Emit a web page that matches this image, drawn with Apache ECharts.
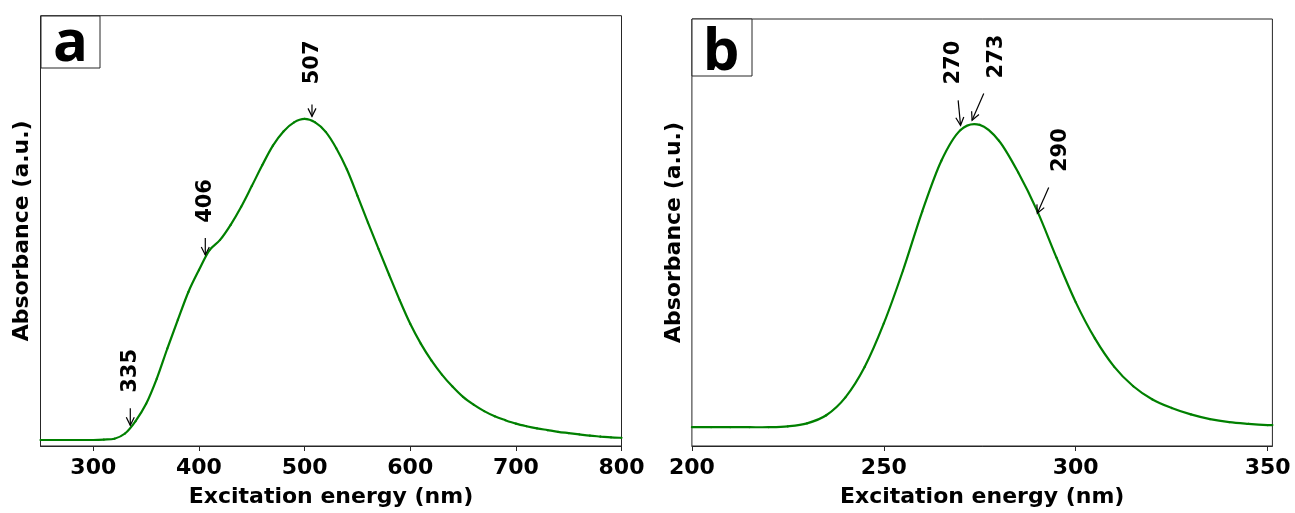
<!DOCTYPE html>
<html>
<head>
<meta charset="utf-8">
<script src="https://cdn.jsdelivr.net/npm/echarts@6/dist/echarts.min.js"></script>
<style>
html,body{margin:0;padding:0;background:#fff;}
#chart{width:1295px;height:513px;}
</style>
</head>
<body>
<div id="chart"></div>
<script>
// ---- Panel a data ----
const aWavelength = [250, 260, 270, 280, 290, 300, 310, 320, 330, 340, 350, 360, 370, 380, 390, 400, 410, 420, 430, 440, 450, 460, 470, 480, 490, 500, 510, 520, 530, 540, 550, 560, 570, 580, 590, 600, 610, 620, 630, 640, 650, 660, 670, 680, 690, 700, 710, 720, 730, 740, 750, 760, 770, 780, 790, 800];
const aAbsorbance = [0.014, 0.014, 0.014, 0.014, 0.014, 0.014, 0.015, 0.017, 0.029, 0.058, 0.098, 0.156, 0.226, 0.293, 0.358, 0.409, 0.455, 0.479, 0.514, 0.556, 0.604, 0.653, 0.698, 0.731, 0.752, 0.760, 0.752, 0.730, 0.692, 0.643, 0.582, 0.519, 0.458, 0.398, 0.339, 0.284, 0.238, 0.199, 0.166, 0.138, 0.114, 0.096, 0.081, 0.069, 0.060, 0.052, 0.046, 0.041, 0.037, 0.033, 0.030, 0.027, 0.024, 0.022, 0.020, 0.019];
const aTicks = [300, 400, 500, 600, 700, 800];
const aPeakLabels = ['335', '406', '507'];
const aPeakX = [335, 406, 507];
const aPeakY = [0.048, 0.444, 0.766];

// ---- Panel b data ----
const bWavelength = [200, 205, 210, 215, 220, 225, 230, 235, 240, 245, 250, 255, 260, 265, 270, 275, 280, 285, 290, 295, 300, 305, 310, 315, 320, 325, 330, 335, 340, 345, 350, 351.25];
const bAbsorbance = [0.044, 0.044, 0.044, 0.044, 0.044, 0.046, 0.053, 0.072, 0.114, 0.185, 0.287, 0.411, 0.549, 0.668, 0.740, 0.752, 0.715, 0.641, 0.550, 0.441, 0.337, 0.252, 0.186, 0.140, 0.109, 0.089, 0.074, 0.063, 0.056, 0.052, 0.049, 0.049];
const bTicks = [200, 250, 300, 350];
const bPeakLabels = ['270', '273', '290'];
const bPeakX = [270, 273, 290];
const bPeakY = [0.751, 0.763, 0.545];

// ---- styles (pixel offsets of arrow tails and label centres relative to the arrow tip) ----
const aAnnoStyle = [
  {tail: [0, -17], text: [0.6, -54.5]},
  {tail: [0, -17], text: [0, -54]},
  {tail: [0, -12], text: [1, -54]}
];
const bAnnoStyle = [
  {tail: [-2.4, -25], text: [-6.7, -62.7]},
  {tail: [11.7, -26.7], text: [24.7, -63.7]},
  {tail: [11.4, -25.7], text: [23.7, -63.2]}
];

const FONT = '"DejaVu Sans", Verdana, sans-serif';
const AXIS_COLOR = '#262626';
const LINE_COLOR = '#008000';

function zip(xs, ys) { return xs.map((x, i) => [x, ys[i]]); }

// Smooth curve: each data item draws the Catmull-Rom segment to the next item,
// with all positions taken from the axes through api.coord.
function curveRenderer(xs, ys) {
  const n = xs.length;
  return function (params, api) {
    const i = params.dataIndex;
    if (i >= n - 1) return null;
    const P = k => { const j = Math.max(0, Math.min(n - 1, k)); return api.coord([xs[j], ys[j]]); };
    const p0 = P(i - 1), p1 = P(i), p2 = P(i + 1), p3 = P(i + 2);
    return {
      type: 'bezierCurve',
      shape: {
        x1: p1[0], y1: p1[1], x2: p2[0], y2: p2[1],
        cpx1: p1[0] + (p2[0] - p0[0]) / 6, cpy1: p1[1] + (p2[1] - p0[1]) / 6,
        cpx2: p2[0] - (p3[0] - p1[0]) / 6, cpy2: p2[1] - (p3[1] - p1[1]) / 6
      },
      style: {stroke: LINE_COLOR, lineWidth: 2.2, fill: null, lineCap: 'round'}
    };
  };
}

function annoRenderer(labels, styles) {
  return function (params, api) {
    const i = params.dataIndex;
    const p = api.coord([api.value(0), api.value(1)]);
    const st = styles[i];
    const tail = [p[0] + st.tail[0], p[1] + st.tail[1]];
    const dx = p[0] - tail[0], dy = p[1] - tail[1];
    const L = Math.hypot(dx, dy) || 1;
    const ux = dx / L, uy = dy / L, nx = -uy, ny = ux;
    const hl = 8, hw = 4;
    const h1 = [p[0] - ux * hl + nx * hw, p[1] - uy * hl + ny * hw];
    const h2 = [p[0] - ux * hl - nx * hw, p[1] - uy * hl - ny * hw];
    return {
      type: 'group',
      children: [
        {type: 'line', shape: {x1: tail[0], y1: tail[1], x2: p[0], y2: p[1]}, style: {stroke: '#000', lineWidth: 1.2}},
        {type: 'polyline', shape: {points: [h1, p, h2]}, style: {stroke: '#000', lineWidth: 1.2, fill: null}},
        {type: 'text', x: p[0] + st.text[0], y: p[1] + st.text[1], rotation: Math.PI / 2,
          style: {text: labels[i], fill: '#000', font: 'bold 21px ' + FONT, align: 'center', verticalAlign: 'middle'}}
      ]
    };
  };
}

function xAxisCfg(gridIndex, min, max, ticks) {
  return {
    gridIndex: gridIndex, type: 'value', min: min, max: max,
    axisLine: {show: true, onZero: false, lineStyle: {color: AXIS_COLOR, width: 1}},
    axisTick: {show: true, length: 5, customValues: ticks, lineStyle: {color: AXIS_COLOR, width: 1}},
    axisLabel: {customValues: ticks, color: '#000', fontWeight: 'bold', fontSize: 22, fontFamily: FONT, margin: 11},
    splitLine: {show: false},
    name: 'Excitation energy (nm)', nameLocation: 'middle', nameGap: 40,
    nameTextStyle: {color: '#000', fontWeight: 'bold', fontSize: 22, fontFamily: FONT}
  };
}
function yAxisCfg(gridIndex) {
  return {
    gridIndex: gridIndex, type: 'value', min: 0, max: 1,
    axisLine: {show: false}, axisTick: {show: false}, axisLabel: {show: false}, splitLine: {show: false},
    name: 'Absorbance (a.u.)', nameLocation: 'middle', nameGap: 7,
    nameTextStyle: {color: '#000', fontWeight: 'bold', fontSize: 22, fontFamily: FONT}
  };
}

const chart = echarts.init(document.getElementById('chart'), null, {renderer: 'canvas'});
chart.setOption({
  animation: false,
  backgroundColor: '#fff',
  grid: [
    {left: 40.5, top: 15.7, width: 581, height: 433.6, show: true, borderColor: AXIS_COLOR, borderWidth: 1, backgroundColor: 'transparent'},
    {left: 691.9, top: 19, width: 580.5, height: 432.7, show: true, borderColor: AXIS_COLOR, borderWidth: 1, backgroundColor: 'transparent'}
  ],
  xAxis: [xAxisCfg(0, 250, 800, aTicks), xAxisCfg(1, 200, 351.25, bTicks)],
  yAxis: [yAxisCfg(0), yAxisCfg(1)],
  series: [
    {type: 'custom', name: 'a', xAxisIndex: 0, yAxisIndex: 0, data: zip(aWavelength, aAbsorbance), renderItem: curveRenderer(aWavelength, aAbsorbance), z: 3},
    {type: 'custom', name: 'b', xAxisIndex: 1, yAxisIndex: 1, data: zip(bWavelength, bAbsorbance), renderItem: curveRenderer(bWavelength, bAbsorbance), z: 3},
    {type: 'custom', xAxisIndex: 0, yAxisIndex: 0, data: zip(aPeakX, aPeakY), renderItem: annoRenderer(aPeakLabels, aAnnoStyle), z: 5},
    {type: 'custom', xAxisIndex: 1, yAxisIndex: 1, data: zip(bPeakX, bPeakY), renderItem: annoRenderer(bPeakLabels, bAnnoStyle), z: 5}
  ],
  graphic: [
    {type: 'rect', shape: {x: 41, y: 16, width: 59, height: 52}, style: {fill: '#fff', stroke: AXIS_COLOR, lineWidth: 1}, z: 10},
    {type: 'text', x: 70.5, y: 44, style: {text: 'a', font: 'bold 58px "Open Sans", "Noto Sans", sans-serif', fill: '#000', align: 'center', verticalAlign: 'middle'}, z: 11},
    {type: 'rect', shape: {x: 692, y: 19, width: 60, height: 57}, style: {fill: '#fff', stroke: AXIS_COLOR, lineWidth: 1}, z: 10},
    {type: 'text', x: 721, y: 53, style: {text: 'b', font: 'bold 58px "Open Sans", "Noto Sans", sans-serif', fill: '#000', align: 'center', verticalAlign: 'middle'}, z: 11}
  ]
});
</script>
</body>
</html>
